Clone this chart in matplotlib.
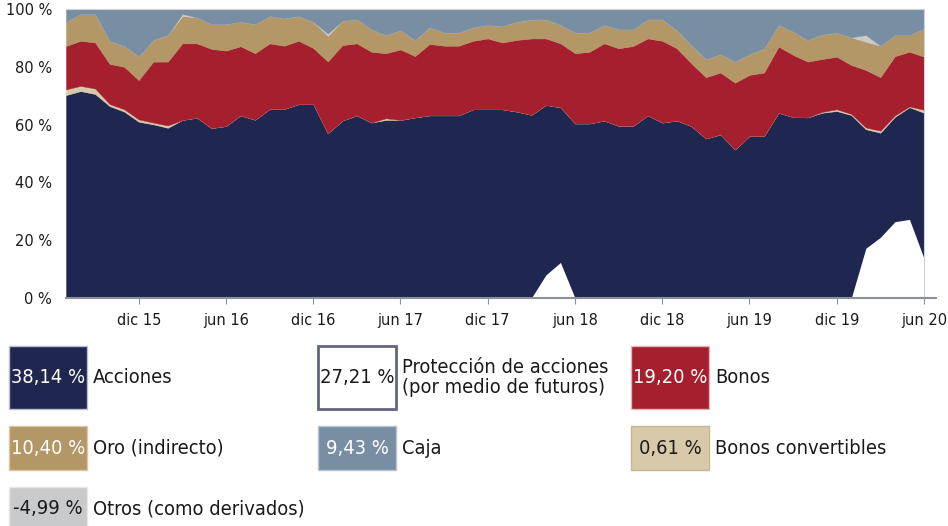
import numpy as np
import matplotlib.pyplot as plt
from matplotlib import font_manager
from matplotlib.patches import Rectangle

# pick a narrow font if one is installed
names = {(f.name, f.stretch) for f in font_manager.fontManager.ttflist}
font_names = {n for n, s in names}
if 'Liberation Sans Narrow' in font_names:
    plt.rcParams['font.family'] = ['Liberation Sans Narrow', 'DejaVu Sans']
    scale = 1.0
elif any(n == 'DejaVu Sans' and s in ('condensed', 'semi-condensed', 600, 700) for n, s in names) or \
        any(n == 'DejaVu Sans' and isinstance(s, (int, float)) and s < 500 for n, s in names):
    plt.rcParams['font.family'] = ['DejaVu Sans']
    plt.rcParams['font.stretch'] = 'condensed'
    scale = 0.9
else:
    plt.rcParams['font.family'] = ['Roboto', 'DejaVu Sans']
    scale = 0.85

# monthly data, jul 15 .. jun 20 (percent of portfolio)
acciones = [70.2, 71.6, 70.6, 66.4, 64.5, 61.0, 60.1, 58.9, 61.6, 62.4,
            58.8, 59.5, 63.2, 61.7, 65.4, 65.4, 67.1, 67.1, 57.0, 61.4,
            63.2, 60.7, 61.6, 61.6, 62.5, 63.2, 63.2, 63.2, 65.3, 65.3,
            65.3, 64.5, 63.4, 66.8, 66.0, 60.4, 60.4, 61.4, 59.6, 59.6,
            63.2, 60.7, 61.4, 59.5, 55.2, 56.6, 51.4, 56.1, 56.1, 64.1,
            62.6, 62.5, 64.1, 64.7, 63.3, 58.4, 57.2, 62.7, 66.0, 64.1]
convertibles = [2.0, 1.8, 1.9, 0.7, 0.8, 0.8, 0.6, 0.8, 0.0, 0.0,
                0.0, 0.0, 0.0, 0.0, 0.0, 0.0, 0.0, 0.0, 0.0, 0.0,
                0.0, 0.0, 0.6, 0.0, 0.0, 0.0, 0.0, 0.0, 0.0, 0.0,
                0.0, 0.0, 0.0, 0.0, 0.0, 0.0, 0.0, 0.0, 0.0, 0.0,
                0.0, 0.0, 0.0, 0.0, 0.0, 0.0, 0.0, 0.0, 0.0, 0.0,
                0.0, 0.0, 0.3, 0.6, 0.4, 0.6, 0.7, 0.5, 0.3, 1.0]
bonos = [15.0, 15.6, 15.9, 13.9, 14.7, 13.6, 21.1, 22.1, 26.5, 25.7,
         27.4, 26.1, 23.9, 23.0, 22.7, 21.9, 21.9, 19.4, 24.8, 26.1,
         24.9, 24.5, 22.5, 24.4, 21.2, 24.7, 24.1, 24.1, 23.7, 24.5,
         23.1, 24.8, 26.4, 23.0, 22.1, 24.3, 24.8, 26.7, 26.8, 27.6,
         26.6, 28.3, 25.0, 21.7, 21.2, 21.4, 23.1, 21.1, 21.9, 22.9,
         21.5, 19.3, 18.3, 18.2, 16.9, 19.9, 18.5, 20.5, 18.9, 18.4]
oro = [8.4, 9.3, 9.9, 8.0, 7.2, 8.3, 7.5, 9.2, 9.5, 9.0,
       8.6, 9.2, 8.5, 10.1, 9.5, 9.5, 8.6, 9.1, 8.9, 8.4,
       8.4, 7.8, 6.3, 6.7, 5.6, 5.8, 4.6, 4.6, 4.7, 4.7,
       5.7, 6.3, 6.6, 6.6, 6.4, 7.2, 6.7, 6.4, 6.6, 5.8,
       6.6, 7.4, 6.3, 6.3, 6.2, 6.4, 7.3, 7.2, 8.4, 7.5,
       8.1, 7.5, 8.5, 8.3, 9.6, 9.8, 10.9, 7.3, 5.8, 9.8]
otros = [0.0, 0.0, 0.0, 0.0, 0.0, 0.0, 0.0, 0.0, 0.7, 0.0,
         0.0, 0.0, 0.0, 0.0, 0.0, 0.0, 0.0, 0.0, 0.8, 0.0,
         0.0, 0.0, 0.0, 0.0, 0.0, 0.0, 0.0, 0.0, 0.0, 0.0,
         0.0, 0.0, 0.0, 0.0, 0.0, 0.0, 0.0, 0.0, 0.0, 0.0,
         0.0, 0.0, 0.0, 0.0, 0.0, 0.0, 0.0, 0.0, 0.0, 0.0,
         0.0, 0.0, 0.0, 0.0, 0.0, 2.3, 0.0, 0.0, 0.0, 0.0]
caja = [4.4, 1.7, 1.7, 11.0, 12.8, 16.3, 10.7, 9.0, 1.7, 2.9,
        5.2, 5.2, 4.4, 5.2, 2.4, 3.2, 2.4, 4.4, 8.5, 4.1,
        3.5, 7.0, 9.0, 7.3, 10.7, 6.3, 8.1, 8.1, 6.3, 5.5,
        5.9, 4.4, 3.6, 3.6, 5.5, 8.1, 8.1, 5.5, 7.0, 7.0,
        3.6, 3.6, 7.3, 12.5, 17.4, 15.6, 18.2, 15.6, 13.6, 5.5,
        7.8, 10.7, 8.8, 8.2, 9.8, 9.0, 12.7, 9.0, 9.0, 6.7]
proteccion = [0.0, 0.0, 0.0, 0.0, 0.0, 0.0, 0.0, 0.0, 0.0, 0.0,
              0.0, 0.0, 0.0, 0.0, 0.0, 0.0, 0.0, 0.0, 0.0, 0.0,
              0.0, 0.0, 0.0, 0.0, 0.0, 0.0, 0.0, 0.0, 0.0, 0.0,
              0.0, 0.0, 0.0, 8.0, 12.3, 0.0, 0.0, 0.0, 0.0, 0.0,
              0.0, 0.0, 0.0, 0.0, 0.0, 0.0, 0.0, 0.0, 0.0, 0.0,
              0.0, 0.0, 0.0, 0.0, 0.0, 17.2, 21.0, 26.4, 27.2, 13.7]

tick_idx = [5, 11, 17, 23, 29, 35, 41, 47, 53, 59]
tick_labels = ['dic 15', 'jun 16', 'dic 16', 'jun 17', 'dic 17',
               'jun 18', 'dic 18', 'jun 19', 'dic 19', 'jun 20']

legend_names = ['Acciones', 'Protección de acciones\n(por medio de futuros)', 'Bonos',
                'Oro (indirecto)', 'Caja', 'Bonos convertibles', 'Otros (como derivados)']
legend_values = ['38,14 %', '27,21 %', '19,20 %', '10,40 %', '9,43 %', '0,61 %', '-4,99 %']

NAVY = '#1f2750'
RED = '#a51f2e'
TAN = '#b39766'
CAJA = '#788fa3'
CONV = '#d7c9a9'
OTROS = '#c9cacc'

W, H = 948, 526
fig = plt.figure(figsize=(W / 100, H / 100), dpi=100)

# main chart, placed in pixel terms
left, right, top, bottom = 66, 924, 9, 298
ax = fig.add_axes([left / W, 1 - bottom / H, (right - left) / W, (bottom - top) / H])

x = np.arange(len(acciones))
colors = [NAVY, CONV, RED, TAN, OTROS, CAJA]
polys = ax.stackplot(x, acciones, convertibles, bonos, oro, otros, caja, colors=colors)
for p, c in zip(polys, colors):
    p.set_edgecolor(c)
    p.set_linewidth(0.3)
ax.fill_between(x, 0, proteccion, color='white', lw=0)

ax.set_xlim(0, len(acciones) - 1)
ax.set_ylim(0, 100)
ax.set_yticks([0, 20, 40, 60, 80, 100])
ax.set_yticklabels(['0 %', '20 %', '40 %', '60 %', '80 %', '100 %'],
                   fontsize=13 * scale, color='#1a1a1a')
ax.tick_params(axis='y', length=0, pad=10)
ax.set_xticks(tick_idx)
ax.set_xticklabels(tick_labels, fontsize=13 * scale, color='#1a1a1a')
ax.tick_params(axis='x', length=4, color='#8c909c', pad=7)
ax.spines['left'].set_visible(False)
ax.spines['bottom'].set_color('#8c909c')
ax.spines['bottom'].set_linewidth(1.5)
ax.spines['top'].set_color('#cfd1d6')
ax.spines['right'].set_color('#cfd1d6')
ax.plot([len(acciones) - 1, len(acciones) - 0.2], [0, 0], color='#8c909c', lw=1.5, clip_on=False)

# legend drawn in figure pixel coordinates
lg = fig.add_axes([0, 0, 1, 1])
lg.set_xlim(0, W)
lg.set_ylim(H, 0)
lg.axis('off')

box_cols = [9, 318, 631]
rows = [(346, 409), (426, 470), (487, 531)]
fills = [NAVY, 'white', RED, TAN, CAJA, CONV, OTROS]
edges = ['#b9bccb', '#62667e', '#e3b3b9', '#d9c7a3', '#b7c3cf', '#c9b58d', '#e6e7e8']
txt_col = ['white', '#1a1a1a', 'white', 'white', 'white', '#1a1a1a', '#1a1a1a']

for k in range(len(legend_names)):
    cx = box_cols[k % 3]
    y0, y1 = rows[k // 3]
    lw = 2 if k == 1 else 1
    lg.add_patch(Rectangle((cx, y0), 78, y1 - y0, facecolor=fills[k],
                           edgecolor=edges[k], lw=lw, clip_on=False))
    ymid = (y0 + y1) / 2 if k < 6 else 509
    lg.text(cx + 39, ymid, legend_values[k], ha='center', va='center',
            fontsize=16 * scale, color=txt_col[k])
    lg.text(cx + 84, ymid, legend_names[k], ha='left', va='center',
            fontsize=16 * scale, color='#1a1a1a', linespacing=1.05)

fig.savefig('out.png', dpi=100)
